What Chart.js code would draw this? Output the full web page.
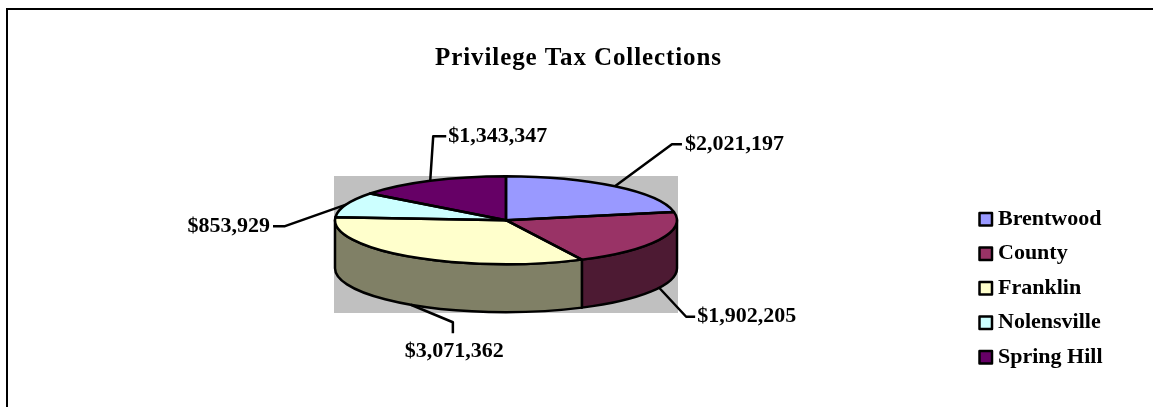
<!DOCTYPE html>
<html>
<head>
<meta charset="utf-8">
<style>
  html, body { margin: 0; padding: 0; background: #fff; overflow: hidden; }
  canvas { display: block; }
</style>
<script src="https://cdn.jsdelivr.net/npm/chart.js@4/dist/chart.umd.min.js"></script>
</head>
<body>
<canvas id="c" width="1153" height="407"></canvas>
<script>
const chartTitle = 'Privilege Tax Collections';
const categories = ['Brentwood', 'County', 'Franklin', 'Nolensville', 'Spring Hill'];
const collections = [2021197, 1902205, 3071362, 853929, 1343347];
const topColors = ['#9999FF', '#993366', '#FFFFCC', '#CCFFFF', '#660066'];
const wallColors = ['#4D4D80', '#4D1A33', '#808066', '#668080', '#330033'];

const SERIF = '"Liberation Serif", serif';
const RX = 171, RY = 44, DEPTH = 48;
const squash = RY / RX;
const FONT = 'bold 22px ' + SERIF;
const LINE = 2.5;

// Leader elbows for each slice, relative to its rim point: elbow, end, label anchor
const leaders = [
  { wall: false, elbow: [57, -42], end: [67, -42], text: [70, -41.5], align: 'left' },
  { wall: true,  elbow: [27, 29],    end: [36, 29],    text: [38, 29],    align: 'left' },
  { wall: true,  elbow: [42, 17.5],  end: [42, 28.5],  text: [43.5, 47], align: 'center' },
  { wall: false, elbow: [-61, 21.5], end: [-73, 21.5], text: [-76, 21.5], align: 'right' },
  { wall: false, elbow: [3, -44.5],  end: [16, -44.5], text: [18, -44.5], align: 'left' }
];

const money = v => '$' + v.toLocaleString('en-US');

const pie3d = {
  id: 'pie3d',
  afterLayout(chart) {
    // title sits centred over the plot, independent of the pie's layout box
    const t = chart.titleBlock;
    t.left = 0; t.right = 1157;
    t.top = 44; t.bottom = 74;
  },
  beforeDraw(chart) {
    const { ctx } = chart;
    ctx.save();
    ctx.fillStyle = '#fff';
    ctx.fillRect(0, 0, chart.width, chart.height);
    // outer frame: only the top and left edges fall inside the page
    ctx.strokeStyle = '#000';
    ctx.lineWidth = 2;
    ctx.beginPath();
    ctx.moveTo(7, chart.height);
    ctx.lineTo(7, 9);
    ctx.lineTo(chart.width, 9);
    ctx.stroke();
    // grey plot backdrop
    ctx.fillStyle = '#C0C0C0';
    ctx.fillRect(334, 176, 344, 137);
    ctx.restore();
    // slightly open tracking for the title, which is drawn next
    ctx.letterSpacing = '0.9px';
  },
  beforeDatasetsDraw(chart) {
    const { ctx } = chart;
    ctx.letterSpacing = '0px';
    const arcs = chart.getDatasetMeta(0).data;
    const cx = arcs[0].x, cy = arcs[0].y;
    ctx.save();
    ctx.lineWidth = LINE;
    ctx.strokeStyle = '#000';
    ctx.lineJoin = 'round';
    // cylinder walls on the near half of the pie
    arcs.forEach((a, i) => {
      const s = Math.max(a.startAngle, 0), e = Math.min(a.endAngle, Math.PI);
      if (e <= s) return;
      ctx.beginPath();
      ctx.ellipse(cx, cy, RX, RY, 0, s, e);
      ctx.ellipse(cx, cy + DEPTH, RX, RY, 0, e, s, true);
      ctx.closePath();
      ctx.fillStyle = wallColors[i];
      ctx.fill();
      ctx.stroke();
    });
    ctx.restore();
    // flatten the library's arcs into the top face
    ctx.save();
    ctx.translate(cx, cy);
    ctx.scale(1, squash);
    ctx.translate(-cx, -cy);
  },
  afterDatasetsDraw(chart) {
    const { ctx } = chart;
    ctx.restore();
    const arcs = chart.getDatasetMeta(0).data;
    const cx = arcs[0].x, cy = arcs[0].y;
    ctx.save();
    ctx.lineWidth = LINE;
    ctx.strokeStyle = '#000';
    ctx.lineJoin = 'round';
    // slice outlines stay an even width, so they are stroked without the flattening
    arcs.forEach(a => {
      ctx.beginPath();
      ctx.moveTo(cx, cy);
      ctx.ellipse(cx, cy, RX, RY, 0, a.startAngle, a.endAngle);
      ctx.closePath();
      ctx.stroke();
    });
    // value labels with leader lines
    ctx.font = FONT;
    ctx.fillStyle = '#000';
    ctx.textBaseline = 'middle';
    arcs.forEach((a, i) => {
      const mid = (a.startAngle + a.endAngle) / 2;
      const l = leaders[i];
      const px = cx + RX * Math.cos(mid);
      const py = cy + RY * Math.sin(mid) + (l.wall ? DEPTH : 0);
      ctx.beginPath();
      ctx.moveTo(px, py);
      ctx.lineTo(px + l.elbow[0], py + l.elbow[1]);
      ctx.lineTo(px + l.end[0], py + l.end[1]);
      ctx.stroke();
      ctx.textAlign = l.align;
      ctx.fillText(money(collections[i]), px + l.text[0], py + l.text[1]);
    });
    // legend column
    ctx.textAlign = 'left';
    categories.forEach((name, i) => {
      const y = 219 + i * 34.5;
      ctx.fillStyle = topColors[i];
      ctx.fillRect(979.5, y - 6, 12.5, 12.5);
      ctx.strokeRect(979.5, y - 6, 12.5, 12.5);
      ctx.fillStyle = '#000';
      ctx.fillText(name, 998, y);
    });
    ctx.restore();
  }
};

new Chart(document.getElementById('c'), {
  type: 'pie',
  data: {
    labels: categories,
    datasets: [{
      data: collections,
      backgroundColor: topColors,
      borderWidth: 0,
      radius: RX,
      clip: false
    }]
  },
  options: {
    responsive: false,
    animation: false,
    events: [],
    rotation: 0,
    layout: { padding: { left: 0, right: 141, top: 3.4, bottom: 0 } },
    plugins: {
      legend: { display: false },
      tooltip: { enabled: false },
      title: {
        display: true,
        text: chartTitle,
        color: '#000',
        font: { family: SERIF, size: 25, weight: 'bold' },
        padding: 0
      }
    }
  },
  plugins: [pie3d]
});
</script>
</body>
</html>
